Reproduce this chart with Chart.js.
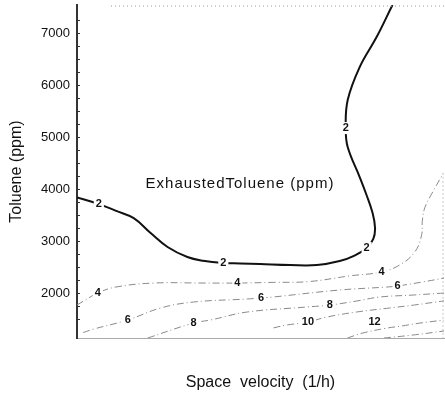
<!DOCTYPE html>
<html>
<head>
<meta charset="utf-8">
<script src="https://cdn.jsdelivr.net/npm/chart.js@4.4.1/dist/chart.umd.min.js"></script>
<style>
  html, body { margin: 0; padding: 0; background: #fff; }
  #wrap { width: 445px; height: 395px; }
</style>
</head>
<body>
<div id="wrap"><canvas id="contour"></canvas></div>
<script>
// Contour lines (space velocity 1/h, toluene ppm)
const c2X = [1627, 1813, 1960, 2110, 2254, 2398, 2567, 2700, 2873, 3017, 3186, 3441, 3670, 3864, 3990, 4093, 4150, 4165, 4144, 4090, 4034, 3932, 3915, 3932, 4034, 4178, 4313];
const c2Y = [3840, 3711, 3580, 3440, 3154, 2885, 2692, 2620, 2577, 2570, 2558, 2538, 2538, 2615, 2720, 2865, 3040, 3250, 3538, 3900, 4231, 4808, 5173, 5712, 6346, 6923, 7540];
const c4X = [1627, 1805, 1958, 2280, 2700, 2992, 3300, 3600, 3950, 4220, 4373, 4500, 4560, 4568, 4590, 4650, 4745];
const c4Y = [1770, 2000, 2115, 2192, 2192, 2192, 2205, 2220, 2330, 2404, 2538, 2780, 3100, 3400, 3650, 3920, 4300];
const c6X = [1680, 1771, 2059, 2339, 2619, 3076, 3195, 3296, 3864, 4262, 4356, 4568, 4754];
const c6Y = [1240, 1308, 1481, 1712, 1827, 1885, 1904, 1923, 2058, 2115, 2135, 2212, 2288];
const c8X = [2229, 2619, 2763, 3076, 3585, 3780, 4008, 4204, 4480, 4754];
const c8Y = [1135, 1423, 1481, 1635, 1731, 1769, 1846, 1923, 1960, 2000];
const c10X = [3300, 3415, 3593, 3754, 4008, 4288, 4500, 4754];
const c10Y = [1330, 1385, 1442, 1538, 1635, 1712, 1770, 1850];
const c12X = [3930, 4060, 4250, 4390, 4540, 4754];
const c12Y = [1135, 1230, 1320, 1365, 1420, 1480];
const c14X = [4240, 4480, 4754];
const c14Y = [1135, 1190, 1270];

// contour labels: x, y, text
const labelX = [1813, 2873, 4093, 3915, 1805, 2992, 4220, 2059, 3195, 4356, 2619, 3780, 3593, 4161];
const labelY = [3711, 2577, 2865, 5173, 2000, 2192, 2404, 1481, 1904, 2135, 1423, 1769, 1442, 1442];
const labelText = ['2', '2', '2', '2', '4', '4', '4', '6', '6', '6', '8', '8', '10', '12'];

const xMin = 1627, xMax = 4752;
const yMin = 1135, yMax = 7540;

function pts(xs, ys) {
    return xs.map((x, i) => ({ x: x, y: ys[i] }));
}

function dashed(xs, ys) {
    return {
        data: pts(xs, ys),
        showLine: true,
        pointRadius: 0,
        borderColor: '#8a8a8a',
        borderWidth: 1,
        borderDash: [7, 3, 1, 3],
        tension: 0.4
    };
}

// labels, inner ticks and frame bits
const extras = {
    id: 'extras',
    afterDatasetsDraw(chart) {
        const ctx = chart.ctx;
        const xs = chart.scales.x, ys = chart.scales.y;
        const area = chart.chartArea;
        ctx.save();

        // small inward ticks on the y axis
        ctx.strokeStyle = '#333';
        ctx.lineWidth = 1;
        ys.ticks.forEach(t => {
            if (t.value % 250 !== 0) return;
            const py = Math.round(ys.getPixelForValue(t.value)) + 0.5;
            ctx.beginPath();
            ctx.moveTo(area.left, py);
            ctx.lineTo(area.left + 3, py);
            ctx.stroke();
        });

        // faint top and right frame
        ctx.strokeStyle = '#999';
        ctx.setLineDash([1, 3]);
        ctx.beginPath();
        ctx.moveTo(area.left + 34, area.top + 1);
        ctx.lineTo(area.right, area.top + 1);
        ctx.moveTo(area.right - 1, ys.getPixelForValue(4300));
        ctx.lineTo(area.right - 1, area.bottom);
        ctx.stroke();
        ctx.setLineDash([]);

        // contour labels
        ctx.font = 'bold 11px "Liberation Sans", Arial, sans-serif';
        ctx.textAlign = 'center';
        ctx.textBaseline = 'middle';
        labelText.forEach((txt, i) => {
            const px = xs.getPixelForValue(labelX[i]);
            const py = ys.getPixelForValue(labelY[i]);
            const w = ctx.measureText(txt).width + 4;
            ctx.fillStyle = '#fff';
            ctx.fillRect(px - w / 2, py - 6, w, 12);
            ctx.fillStyle = '#111';
            ctx.fillText(txt, px, py);
        });

        // title inside the plot
        ctx.font = '15px "Liberation Sans", Arial, sans-serif';
        ctx.letterSpacing = '1px';
        ctx.fillStyle = '#111';
        ctx.fillText('ExhaustedToluene (ppm)', 240, 184);
        ctx.restore();
    }
};

const chart = new Chart(document.getElementById('contour'), {
    type: 'scatter',
    data: {
        datasets: [
            {
                data: pts(c2X, c2Y),
                showLine: true,
                pointRadius: 0,
                borderColor: '#111',
                borderWidth: 2,
                tension: 0.4
            },
            dashed(c4X, c4Y),
            dashed(c6X, c6Y),
            dashed(c8X, c8Y),
            dashed(c10X, c10Y),
            dashed(c12X, c12Y),
            dashed(c14X, c14Y)
        ]
    },
    options: {
        responsive: true,
        maintainAspectRatio: false,
        animation: false,
        layout: { padding: { top: 5, right: 1, left: 0, bottom: 0 } },
        plugins: {
            legend: { display: false },
            tooltip: { enabled: false }
        },
        scales: {
            x: {
                type: 'linear',
                min: xMin,
                max: xMax,
                afterFit: s => { s.height = 57; s.paddingLeft = 0; s.paddingRight = 0; },
                grid: { drawOnChartArea: false, drawTicks: false },
                border: { display: true, color: '#aaa', dash: [1, 3], width: 1 },
                ticks: {
                    stepSize: 500,
                    autoSkip: false,
                    maxRotation: 0,
                    padding: 8,
                    color: '#111',
                    font: { family: '"Liberation Sans", Arial, sans-serif', size: 13 },
                    callback: v => (v % 500 === 0 ? v : '')
                },
                title: {
                    display: true,
                    text: 'Space  velocity  (1/h)',
                    color: '#111',
                    padding: { top: 0, bottom: 3 },
                    font: { family: '"Liberation Sans", Arial, sans-serif', size: 16 }
                }
            },
            y: {
                type: 'linear',
                min: yMin,
                max: yMax,
                afterFit: s => { s.width = 77; s.paddingTop = 0; s.paddingBottom = 0; },
                grid: { drawOnChartArea: false, drawTicks: false },
                border: { display: true, color: '#333', width: 2 },
                ticks: {
                    stepSize: 250,
                    autoSkip: false,
                    padding: 7,
                    color: '#111',
                    font: { family: '"Liberation Sans", Arial, sans-serif', size: 13 },
                    callback: v => (v % 1000 === 0 ? v : '')
                },
                title: {
                    display: true,
                    text: 'Toluene (ppm)',
                    color: '#111',
                    padding: { top: 7, bottom: 0 },
                    font: { family: '"Liberation Sans", Arial, sans-serif', size: 16 }
                }
            }
        }
    },
    plugins: [extras]
});
</script>
</body>
</html>
